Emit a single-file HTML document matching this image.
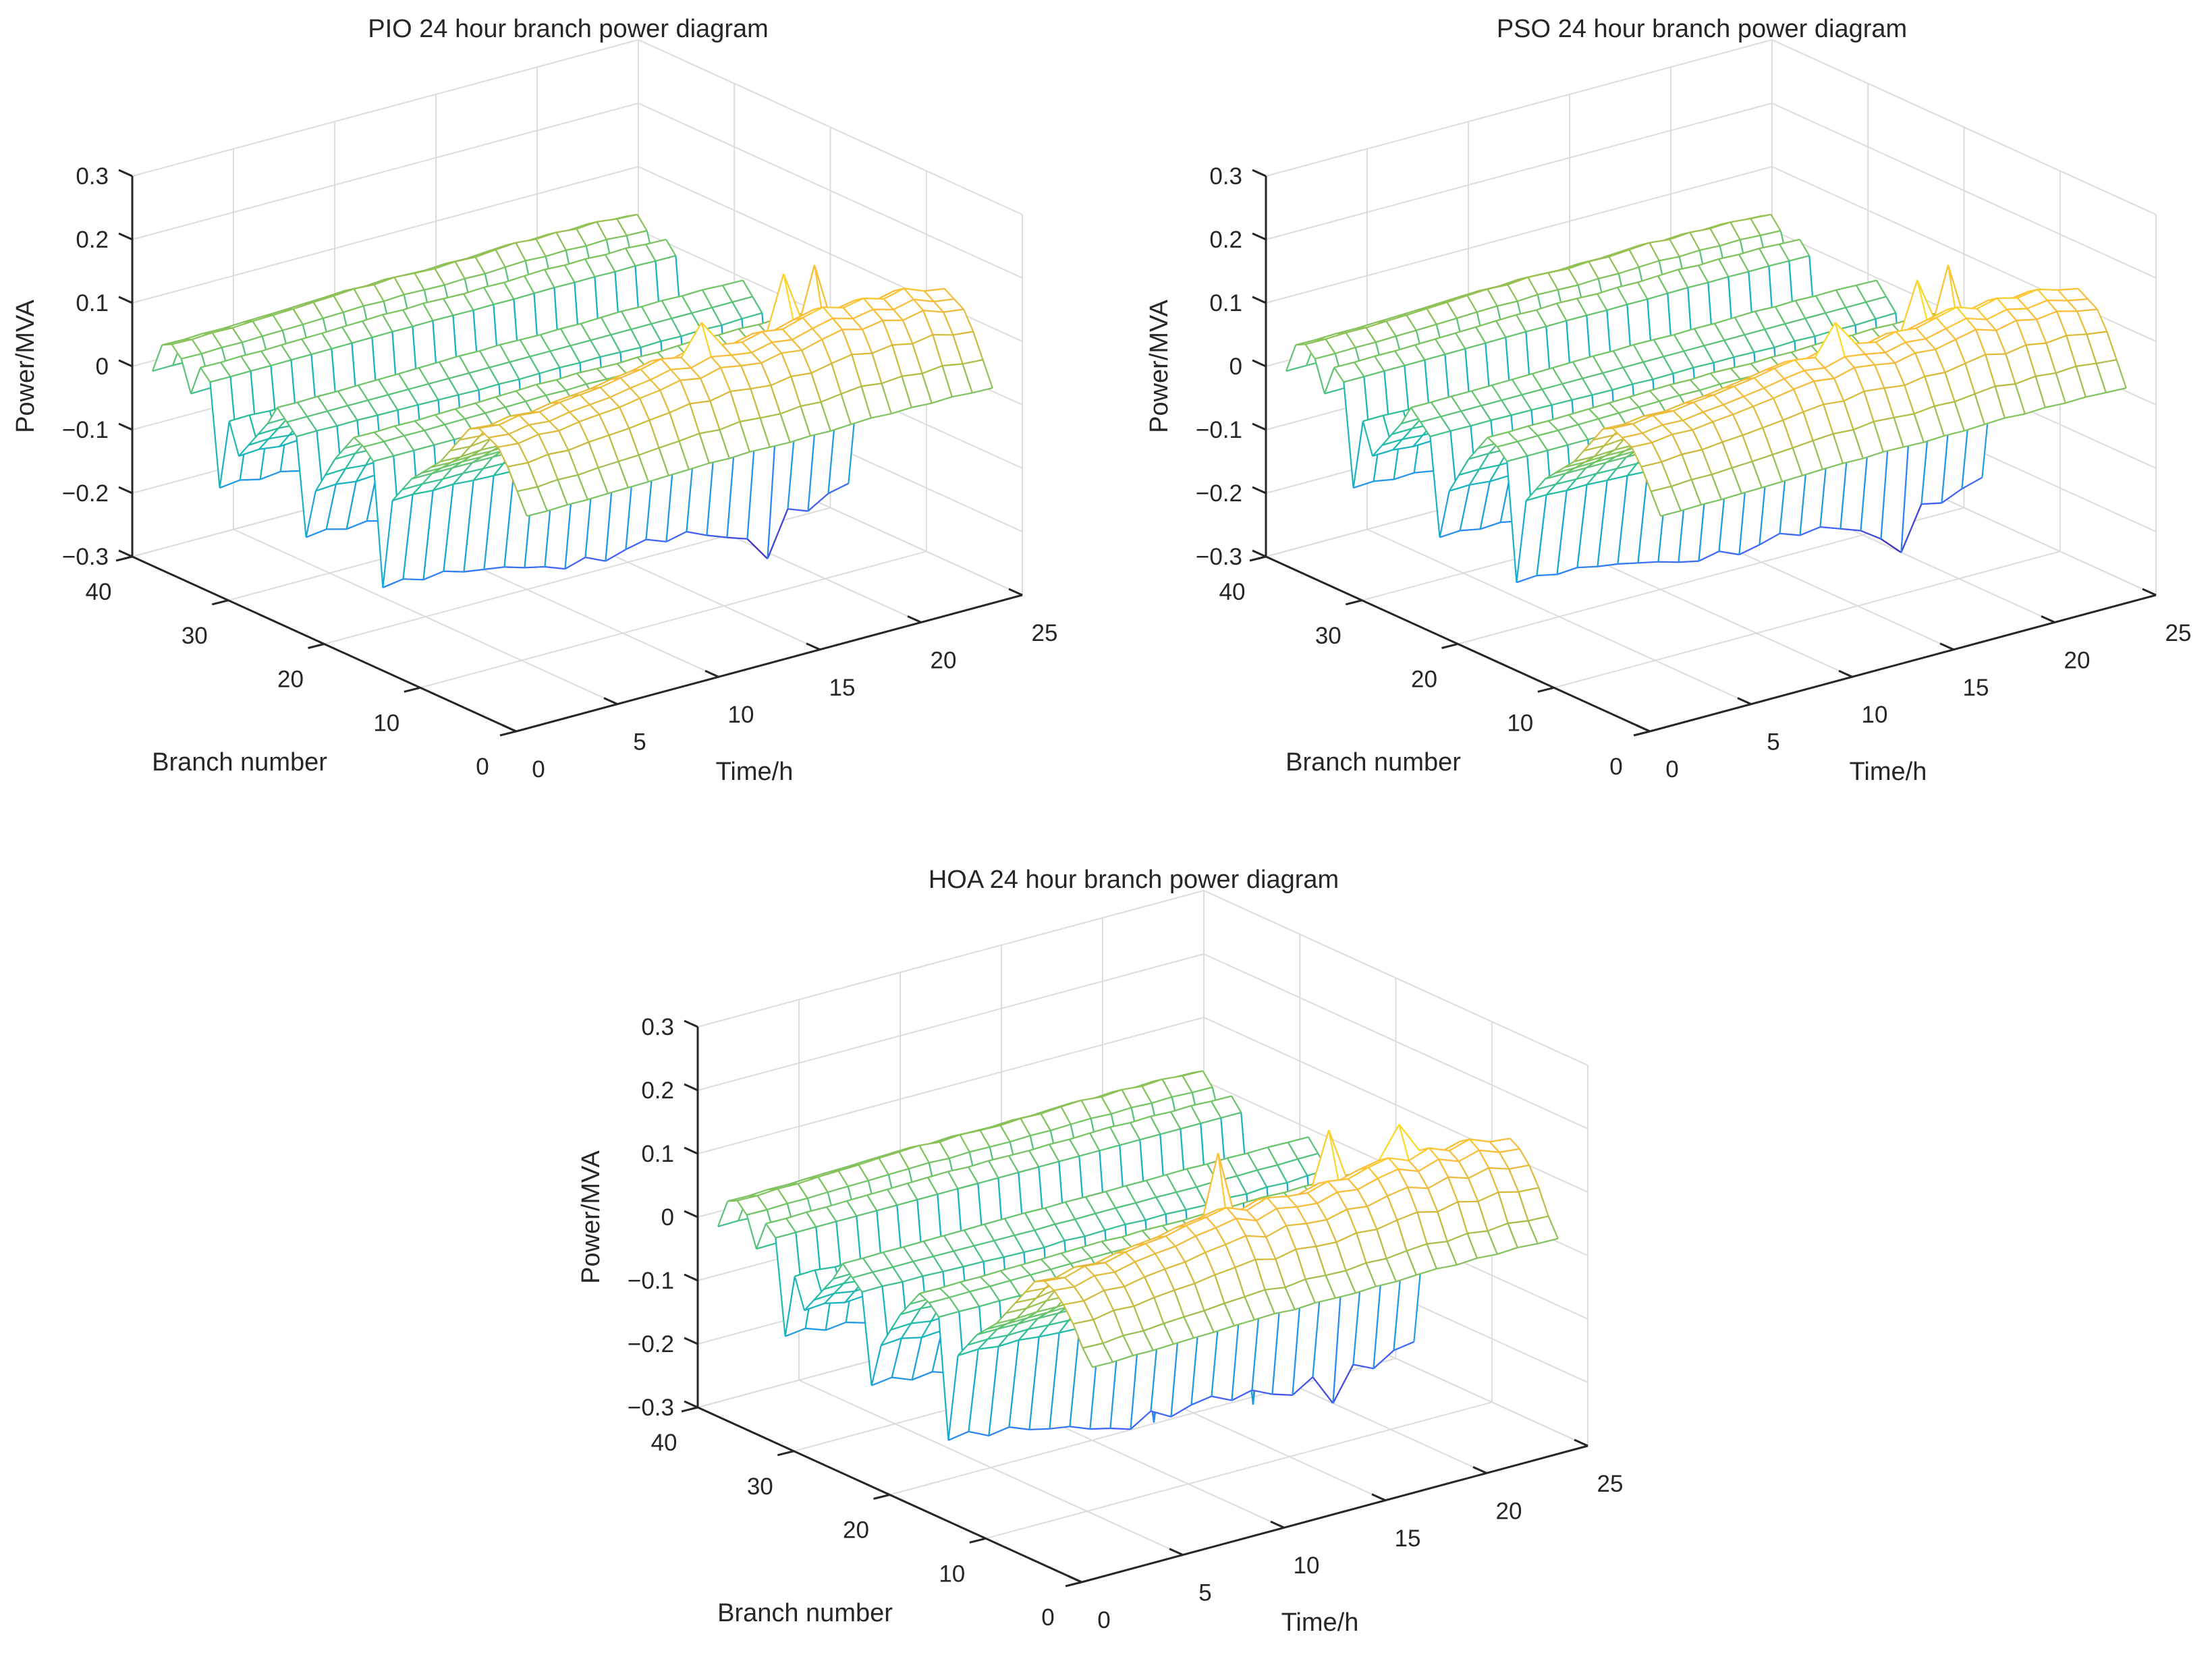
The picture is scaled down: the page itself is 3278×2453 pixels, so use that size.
<!DOCTYPE html>
<html><head><meta charset="utf-8">
<style>
html,body{margin:0;padding:0;background:#fff;}
svg{display:block;}
text{font-family:"Liberation Sans",Arial,sans-serif;fill:#262626;}
</style></head>
<body>
<svg id="fig" width="3278" height="2453" viewBox="0 0 3278 2453" xmlns="http://www.w3.org/2000/svg">
<rect width="3278" height="2453" fill="#fff"/>
</svg>
<script>
// ---------- data ----------
const branches = [1,2,3,4,5,6,7,8,9,10,11,12,13,14,15,16,17,18,19,20,21,22,23,24,25,26,27,28,29,30,31,32,33,34,35,36,37,38,39,40];
const hours = [1,2,3,4,5,6,7,8,9,10,11,12,13,14,15,16,17,18,19,20,21,22,23,24];
const zTicks = [-0.3,-0.2,-0.1,0,0.1,0.2,0.3];
const zTickLabels = ["\u22120.3","\u22120.2","\u22120.1","0","0.1","0.2","0.3"];
const bTicks = [0,10,20,30,40];
const tTicks = [0,5,10,15,20,25];

const pioBase = [0.03,0.07,0.11,0.14,0.15,0.16,0.15,0.12,0.09,0.06,0.04,0.02,0.00,-0.03,-0.06,-0.24,0.00,0.02,0.03,0.00,-0.03,-0.07,-0.11,-0.21,-0.02,0.00,0.02,-0.02,-0.05,-0.08,-0.11,-0.05,-0.19,0.01,0.03,-0.03,0.03,0.05,0.04,-0.02];
const pioLoad = [0.80,0.78,0.82,0.80,0.84,0.86,0.88,0.92,0.95,1.00,0.96,1.02,0.98,0.95,1.00,0.97,1.03,1.08,1.02,1.06,1.00,1.05,0.97,0.94];
const pioSpikes = [[23,14,-0.29],[16,20,-0.31],[16,19,-0.27],[24,10,-0.24],[8,17,0.22],[9,19,0.21],[6,12,0.2]];

const psoBase = [0.03,0.07,0.11,0.14,0.15,0.16,0.15,0.12,0.09,0.06,0.04,0.02,0.00,-0.03,-0.06,-0.23,0.00,0.02,0.03,0.00,-0.03,-0.07,-0.11,-0.21,-0.02,0.00,0.02,-0.02,-0.05,-0.08,-0.11,-0.05,-0.19,0.01,0.03,-0.03,0.03,0.05,0.04,-0.02];
const psoLoad = [0.80,0.79,0.82,0.81,0.84,0.86,0.89,0.92,0.96,0.99,0.96,1.02,0.99,0.95,1.00,0.98,1.03,1.08,1.01,1.06,1.01,1.04,0.98,0.94];
const psoSpikes = [[23,14,-0.28],[16,20,-0.30],[16,19,-0.27],[24,10,-0.24],[8,17,0.21],[9,19,0.21],[6,12,0.2]];

const hoaBase = [0.03,0.06,0.10,0.13,0.15,0.16,0.15,0.12,0.09,0.06,0.03,0.01,-0.01,-0.04,-0.07,-0.25,-0.01,0.01,0.02,-0.01,-0.04,-0.08,-0.12,-0.21,-0.03,-0.01,0.01,-0.03,-0.06,-0.09,-0.12,-0.06,-0.19,0.00,0.02,-0.04,0.02,0.04,0.03,-0.03];
const hoaLoad = [0.78,0.76,0.82,0.80,0.85,0.88,0.90,0.95,0.98,1.02,0.94,1.01,0.97,0.95,1.01,0.98,1.04,1.08,1.00,1.07,0.99,1.05,0.97,0.95];
const hoaSpikes = [[22,14,-0.32],[18,17,-0.29],[16,20,-0.30],[24,10,-0.24],[9,11,0.22],[8,16,0.22],[7,19,0.21]];

// ---------- geometry ----------
const BX=-569/40, BY=-259/40, TX=750/25, TY=-202/25, ZS=940;
const charts=[
 {name:'pio',title:'PIO 24 hour branch power diagram',ox:765,oy:1084,base:pioBase,load:pioLoad,spikes:pioSpikes},
 {name:'pso',title:'PSO 24 hour branch power diagram',ox:765+1680,oy:1084,base:psoBase,load:psoLoad,spikes:psoSpikes},
 {name:'hoa',title:'HOA 24 hour branch power diagram',ox:765+838,oy:1084+1261,base:hoaBase,load:hoaLoad,spikes:hoaSpikes}
];
const NS='http://www.w3.org/2000/svg';
const svg=document.getElementById('fig');
const stops=[[0,[62,38,168]],[0.13,[67,97,251]],[0.25,[42,140,241]],[0.38,[20,173,207]],[0.5,[34,190,160]],[0.63,[118,196,99]],[0.75,[198,187,61]],[0.88,[252,188,58]],[1,[249,251,14]]];
function parula(v){v=Math.max(0,Math.min(1,v));for(let i=1;i<stops.length;i++){if(v<=stops[i][0]){const a=stops[i-1],b=stops[i];const f=(v-a[0])/(b[0]-a[0]);const c=a[1].map((x,k)=>Math.round(x+(b[1][k]-x)*f));return 'rgb('+c.join(',')+')';}}return 'rgb(249,251,14)';}
function mk(tag,attrs,parent){const e=document.createElementNS(NS,tag);for(const k in attrs)e.setAttribute(k,attrs[k]);(parent||svg).appendChild(e);return e;}

charts.forEach(c=>{
  const P=(b,t,z)=>[c.ox+b*BX+t*TX, c.oy+b*BY+t*TY-(z+0.3)*ZS];
  const g=mk('g',{});
  
  
  const grid=mk('g',{stroke:'#dcdcdc','stroke-width':2,fill:'none'},g);
  
  
  const L=(p,q,par,col,w)=>mk('line',{x1:p[0].toFixed(1),y1:p[1].toFixed(1),x2:q[0].toFixed(1),y2:q[1].toFixed(1),stroke:col||'#dcdcdc','stroke-width':w||2},par);
  tTicks.forEach(t=>L(P(40,t,-0.3),P(40,t,0.3),grid));
  zTicks.forEach(z=>L(P(40,0,z),P(40,25,z),grid));
  bTicks.forEach(b=>L(P(b,25,-0.3),P(b,25,0.3),grid));
  zTicks.forEach(z=>L(P(0,25,z),P(40,25,z),grid));
  tTicks.forEach(t=>L(P(0,t,-0.3),P(40,t,-0.3),grid));
  bTicks.forEach(b=>L(P(b,0,-0.3),P(b,25,-0.3),grid));
  // surface values
  const Z=branches.map((b,i)=>hours.map((h,j)=>c.base[i]*c.load[j]));
  c.spikes.forEach(([b,h,v])=>{const i=branches.indexOf(b),j=hours.indexOf(h);if(i>=0&&j>=0)Z[i][j]=v;});
  let mn=Infinity,mx=-Infinity;Z.forEach(r=>r.forEach(v=>{mn=Math.min(mn,v);mx=Math.max(mx,v);}));
  const col=v=>parula((v-mn)/(mx-mn));
  const quads=[];
  for(let i=0;i<branches.length-1;i++)for(let j=0;j<hours.length-1;j++){
    const d=6.5*(branches[i]+branches[i+1])/2+8.1*(hours[j]+hours[j+1])/2;
    quads.push([d,i,j]);
  }
  quads.sort((a,b)=>b[0]-a[0]);
  const mesh=mk('g',{'stroke-width':2.2,'stroke-linejoin':'round'},g);
  
  
  quads.forEach(([d,i,j])=>{
    const v=[[i,j],[i+1,j],[i+1,j+1],[i,j+1]];
    const pts=v.map(([a,b])=>P(branches[a],hours[b],Z[a][b]));
    const poly=mk('polygon',{points:pts.map(p=>p[0].toFixed(1)+','+p[1].toFixed(1)).join(' '),fill:'#fff',stroke:'none'},mesh);
    
    
    for(let k=0;k<4;k++){
      const a=v[k],b=v[(k+1)%4];
      const zc=(Z[a[0]][a[1]]+Z[b[0]][b[1]])/2;
      L(pts[k],pts[(k+1)%4],mesh,col(zc),2.2);
    }
  });
  const ax=mk('g',{},g);
  
  
  L(P(40,0,-0.3),P(40,0,0.3),ax,'#262626',3);
  L(P(0,0,-0.3),P(40,0,-0.3),ax,'#262626',3);
  L(P(0,0,-0.3),P(0,25,-0.3),ax,'#262626',3);
  const T=(x,y,s,anchor,name,size)=>{const e=mk('text',{x:x.toFixed(1),y:y.toFixed(1),'text-anchor':anchor,'font-size':size||35},ax);e.textContent=s;return e;};
  zTicks.forEach((z,k)=>{const p=P(40,0,z);L(p,[p[0]-20,p[1]-9],ax,'#262626',3);T(p[0]-35,p[1]+12,zTickLabels[k],'end','z-tick-label');});
  bTicks.forEach(b=>{const p=P(b,0,-0.3);L(p,[p[0]-24,p[1]+6],ax,'#262626',3);T(p[0]-50,p[1]+64,String(b),'middle','branch-tick-label');});
  tTicks.forEach(t=>{const p=P(0,t,-0.3);L(p,[p[0]-20,p[1]-9],ax,'#262626',3);T(p[0]+33,p[1]+68,String(t),'middle','time-tick-label');});
  const yl=T(0,0,'Power/MVA','middle','z-axis-title',38);
  yl.setAttribute('transform','translate('+(c.ox-765+50)+','+(c.oy-1084+543)+') rotate(-90)');
  T(c.ox-765+355,c.oy-1084+1142,'Branch number','middle','branch-axis-title',38);
  T(c.ox-765+1118,c.oy-1084+1156,'Time/h','middle','time-axis-title',38);
  T(c.ox-765+842,c.oy-1084+55,c.title,'middle','chart-title',38);
});
</script>
</body></html>
